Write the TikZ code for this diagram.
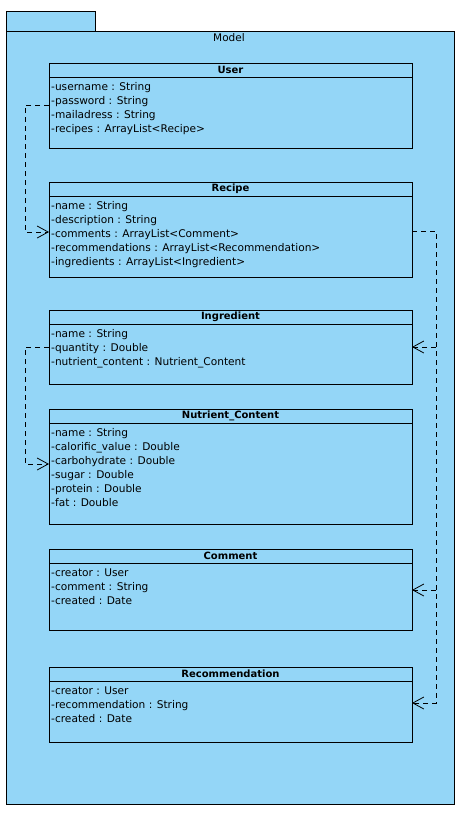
\documentclass[tikz,border=0pt]{standalone}
\usepackage{fontspec}
\setmainfont{DejaVu Sans}
\usetikzlibrary{positioning,calc,arrows.meta}
\definecolor{modelblue}{RGB}{148,214,247}
\newcommand{\classparts}[3]{%
    \node[classtitle] (#1-title) at (#1.north) {#2};
    \draw[line width=1pt] (#1-title.south -| #1.west) -- (#1-title.south -| #1.east);
    \node[classattrs] (#1-attrs) at (#1-title.south -| #1.west) {#3};
}
\tikzset{
    classbox/.style={draw, fill=modelblue, line width=1pt, minimum width=363pt, inner sep=0pt, outer sep=0pt},
    classtitle/.style={font=\fontsize{10}{14}\selectfont\bfseries, anchor=north, inner sep=0pt, minimum height=14pt},
    classattrs/.style={font=\fontsize{10.6}{14}\selectfont, align=left, anchor=north west, inner xsep=2pt, inner ysep=5pt},
    dep/.style={dash pattern=on 5pt off 4pt, line width=0.8pt, -{Straight Barb[length=11pt,width=12pt]}}
}

\begin{document}
\begin{tikzpicture}[x=1pt, y=-1pt]
    \useasboundingbox (0,0) rectangle (468,814);
    % package
    \draw[fill=modelblue, line width=1pt] (6,11) rectangle (95,31);
    \draw[fill=modelblue, line width=1pt] (6,31) rectangle (454,804);
    \node[font=\fontsize{10.5}{12}\selectfont] (model) at (229,38) {Model};

    \node[classbox, anchor=north west, minimum height=85pt] (user) at (49,63) {};
    \node[classbox, minimum height=95pt, below=34pt of user] (recipe) {};
    \node[classbox, minimum height=74pt, below=33pt of recipe] (ingredient) {};
    \node[classbox, minimum height=115pt, below=25pt of ingredient] (nutrient) {};
    \node[classbox, minimum height=81pt, below=25pt of nutrient] (comment) {};
    \node[classbox, minimum height=75pt, below=37pt of comment] (recommendation) {};

    \classparts{user}{User}{-username : String\\-password : String\\-mailadress : String\\-recipes : ArrayList<Recipe>}
    \classparts{recipe}{Recipe}{-name : String\\-description : String\\-comments : ArrayList<Comment>\\-recommendations : ArrayList<Recommendation>\\-ingredients : ArrayList<Ingredient>}
    \classparts{ingredient}{Ingredient}{-name : String\\-quantity : Double\\-nutrient\_content : Nutrient\_Content}
    \classparts{nutrient}{Nutrient\_Content}{-name : String\\-calorific\_value : Double\\-carbohydrate : Double\\-sugar : Double\\-protein : Double\\-fat : Double}
    \classparts{comment}{Comment}{-creator : User\\-comment : String\\-created : Date}
    \classparts{recommendation}{Recommendation}{-creator : User\\-recommendation : String\\-created : Date}

    % dependencies
    \coordinate (u1) at ($(user.north west)+(0,42)$);
    \coordinate (r1) at ($(recipe.north west)+(0,50)$);
    \coordinate (r2) at ($(recipe.north east)+(0,49)$);
    \coordinate (i1) at ($(ingredient.north east)+(0,37)$);
    \coordinate (i2) at ($(ingredient.north west)+(0,37)$);
    \coordinate (n1) at ($(nutrient.north west)+(0,55)$);
    \coordinate (c1) at ($(comment.north east)+(0,41)$);
    \coordinate (rc1) at ($(recommendation.north east)+(0,36)$);
    \coordinate (rail) at ($(r2)+(24,0)$);

    \draw[dep] (u1) -- ++(-24,0) |- (r1);
    \draw[dep] (i2) -- ++(-24,0) |- (n1);
    \draw[dep] (r2) -- (rail) |- (rc1);
    \draw[dep] (rail |- i1) -- (i1);
    \draw[dep] (rail |- c1) -- (c1);
\end{tikzpicture}
\end{document}
